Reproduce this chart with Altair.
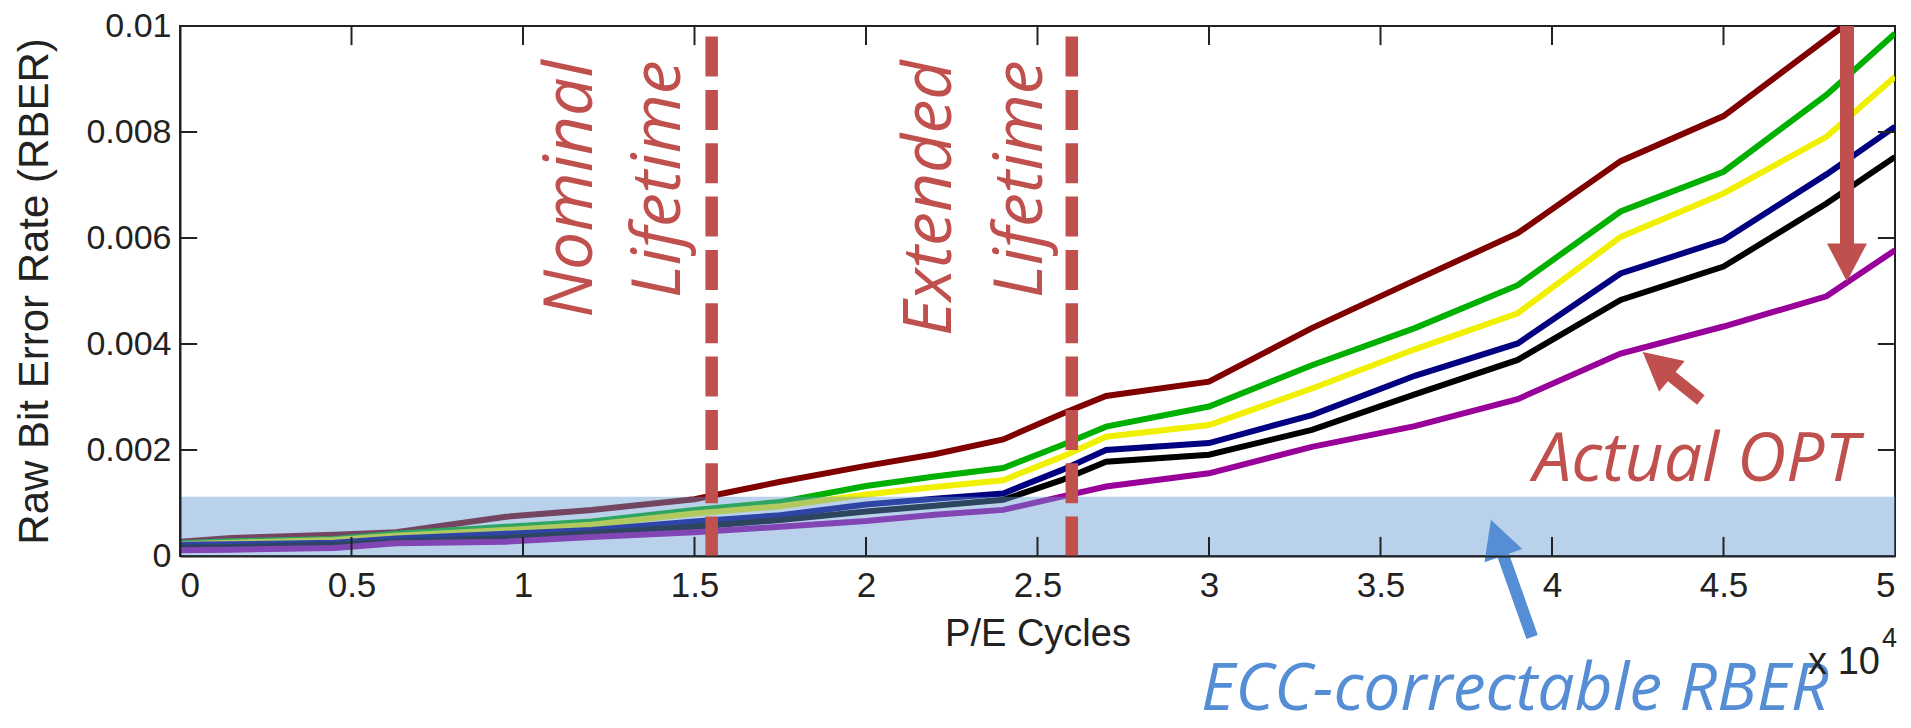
import altair as alt
import pandas as pd

# ---------------- data (P/E cycles in units of 10^4) ----------------
pe = [0, 0.15, 0.45, 0.63, 0.95, 1.2, 1.5, 1.75, 2.0, 2.2, 2.4, 2.57, 2.7, 3.0,
      3.3, 3.6, 3.9, 4.2, 4.5, 4.8, 5.0]
pe_top = [0, 0.15, 0.45, 0.63, 0.95, 1.2, 1.5, 1.75, 2.0, 2.2, 2.4, 2.57, 2.7, 3.0,
          3.3, 3.6, 3.9, 4.2, 4.5, 4.85]

rber_darkred = [0.00027, 0.00034, 0.00040, 0.00045, 0.00074, 0.00087, 0.00107, 0.00140,
                0.00170, 0.00192, 0.00220, 0.00268, 0.00302, 0.00329, 0.00430, 0.00520,
                0.00609, 0.00745, 0.00830, 0.01000]
rber_green = [0.00024, 0.00028, 0.00032, 0.00042, 0.00055, 0.00065, 0.00087, 0.00102,
              0.00132, 0.00150, 0.00166, 0.00209, 0.00244, 0.00282, 0.00360, 0.00430,
              0.00511, 0.00650, 0.00725, 0.00870, 0.00986]
rber_yellow = [0.00022, 0.00025, 0.00030, 0.00038, 0.00049, 0.00059, 0.00080, 0.00094,
               0.00116, 0.00130, 0.00143, 0.00187, 0.00225, 0.00247, 0.00316, 0.00390,
               0.00458, 0.00602, 0.00684, 0.00791, 0.00904]
rber_navy = [0.00021, 0.00022, 0.00025, 0.00033, 0.00042, 0.00049, 0.00065, 0.00077,
             0.00097, 0.00108, 0.00118, 0.00162, 0.00200, 0.00213, 0.00266, 0.00340,
             0.00401, 0.00533, 0.00596, 0.00720, 0.00810]
rber_black = [0.00016, 0.00017, 0.00021, 0.00027, 0.00034, 0.00043, 0.00055, 0.00068,
              0.00084, 0.00095, 0.00106, 0.00143, 0.00178, 0.00191, 0.00238, 0.00305,
              0.00370, 0.00483, 0.00546, 0.00665, 0.00753]
rber_purple = [0.00011, 0.00012, 0.00015, 0.00024, 0.00027, 0.00036, 0.00045, 0.00055,
               0.00066, 0.00078, 0.00087, 0.00112, 0.00131, 0.00156, 0.00206, 0.00245,
               0.00296, 0.00382, 0.00433, 0.00490, 0.00577]

series_names = ["Curve 1", "Curve 2", "Curve 3", "Curve 4", "Curve 5", "Actual OPT"]
series_colors = ["#800000", "#00B000", "#F0F000", "#000080", "#000000", "#990099"]

x_ticks = [0, 0.5, 1, 1.5, 2, 2.5, 3, 3.5, 4, 4.5, 5]
y_ticks = [0, 0.002, 0.004, 0.006, 0.008, 0.01]

ecc_limit = 0.00112
nominal_life = 1.55
extended_life = 2.6

RED = "#C0504D"
BLUE = "#558ED5"

# ---------------- tables ----------------
rows = []
for name, xs, ys in zip(series_names,
                        [pe_top, pe, pe, pe, pe, pe],
                        [rber_darkred, rber_green, rber_yellow, rber_navy, rber_black, rber_purple]):
    for i, (a, b) in enumerate(zip(xs, ys)):
        rows.append({"pe": a, "rber": b, "series": name, "i": i})
lines_df = pd.DataFrame(rows)

X = alt.X("pe:Q", title="P/E Cycles",
          scale=alt.Scale(domain=[0, 5], nice=False, zero=False),
          axis=alt.Axis(values=x_ticks, format=".1~f", tickSize=0, grid=False,
                        labelFont="Liberation Sans", labelFontSize=35, labelColor="#222",
                        labelPadding=12, domainColor="#222", domainWidth=2,
                        titleFont="Liberation Sans", titleFontSize=38, titleFontWeight="normal",
                        titleColor="#222", titleY=89, titleBaseline="alphabetic", zindex=1))
Y = alt.Y("rber:Q", title="Raw Bit Error Rate (RBER)",
          scale=alt.Scale(domain=[0, 0.01], nice=False),
          axis=alt.Axis(values=y_ticks, format=".3~f", tickSize=0, grid=False,
                        labelFont="Liberation Sans", labelFontSize=34, labelColor="#222",
                        labelPadding=9, domainColor="#222", domainWidth=2,
                        titleFont="Liberation Sans", titleFontSize=42, titleFontWeight="normal",
                        titleColor="#222", titleX=-133, titleAngle=270,
                        titleBaseline="alphabetic", zindex=1))

lines = alt.Chart(lines_df).mark_line(strokeWidth=6, clip=True).encode(
    x=X, y=Y,
    color=alt.Color("series:N", scale=alt.Scale(domain=series_names, range=series_colors), legend=None),
    order="i:Q",
)

band_df = pd.DataFrame({"pe": [0], "pe2": [5], "rber": [0], "rber2": [ecc_limit]})
band = alt.Chart(band_df).mark_rect(color="#6599D5", opacity=0.45).encode(
    x="pe:Q", x2="pe2", y="rber:Q", y2="rber2")

# inward ticks (box style)
tick_x_len = 0.00036
tick_y_len = 0.05
bt = pd.DataFrame({"pe": x_ticks[1:-1], "rber": [0] * 9, "rber2": [tick_x_len] * 9})
tt = pd.DataFrame({"pe": x_ticks[1:-1], "rber": [0.01] * 9, "rber2": [0.01 - tick_x_len] * 9})
lt = pd.DataFrame({"rber": y_ticks[1:-1], "pe": [0] * 4, "pe2": [tick_y_len] * 4})
rt = pd.DataFrame({"rber": y_ticks[1:-1], "pe": [5] * 4, "pe2": [5 - tick_y_len] * 4})
tick_style = dict(color="#222", strokeWidth=2)
ticks = alt.layer(
    alt.Chart(bt).mark_rule(**tick_style).encode(x="pe:Q", y="rber:Q", y2="rber2"),
    alt.Chart(tt).mark_rule(**tick_style).encode(x="pe:Q", y="rber:Q", y2="rber2"),
    alt.Chart(lt).mark_rule(**tick_style).encode(x="pe:Q", x2="pe2", y="rber:Q"),
    alt.Chart(rt).mark_rule(**tick_style).encode(x="pe:Q", x2="pe2", y="rber:Q"),
)

life_df = pd.DataFrame({"pe": [nominal_life, extended_life], "rber": [0.0098, 0.0098], "rber2": [0, 0]})
life = alt.Chart(life_df).mark_rule(color=RED, strokeWidth=12.5, strokeDash=[40, 13.33],
                                    strokeCap="butt").encode(x="pe:Q", y="rber:Q", y2="rber2")

label_df = pd.DataFrame({
    "text": ["Nominal", "Lifetime", "Extended", "Lifetime"],
    "pe": [1.201, 1.458, 2.249, 2.512],
    "rber": [0.00935, 0.00935, 0.00935, 0.00935],
})
life_labels = alt.Chart(label_df).mark_text(
    angle=270, align="right", baseline="alphabetic", font="Open Sans", fontStyle="italic",
    fontSize=68, color=RED).encode(x="pe:Q", y="rber:Q", text="text:N")

opt_df = pd.DataFrame({"text": ["Actual OPT"], "pe": [3.945], "rber": [0.00142]})
opt_label = alt.Chart(opt_df).mark_text(
    align="left", baseline="alphabetic", font="Open Sans", fontStyle="italic",
    fontSize=68, color=RED).encode(x="pe:Q", y="rber:Q", text="text:N")

ecc_df = pd.DataFrame({"text": ["ECC-correctable RBER"], "pe": [2.977], "rber": [-0.00291]})
ecc_label = alt.Chart(ecc_df).mark_text(
    align="left", baseline="alphabetic", font="Open Sans", fontStyle="italic",
    fontSize=66, color=BLUE).encode(x="pe:Q", y="rber:Q", text="text:N")

mult_df = pd.DataFrame({"text": ["x 10"], "pe": [4.956], "rber": [-0.00222]})
mult = alt.Chart(mult_df).mark_text(
    align="right", baseline="alphabetic", font="Liberation Sans", fontSize=38,
    color="#222").encode(x="pe:Q", y="rber:Q", text="text:N")
exp_df = pd.DataFrame({"text": ["4"], "pe": [4.962], "rber": [-0.00171]})
expo = alt.Chart(exp_df).mark_text(
    align="left", baseline="alphabetic", font="Liberation Sans", fontSize=27,
    color="#222").encode(x="pe:Q", y="rber:Q", text="text:N")

# arrows
shaft_df = pd.DataFrame({
    "pe": [4.86, 4.329, 3.848], "rber": [0.0100, 0.00349, 0.000189],
    "pe2": [4.86, 4.434, 3.942], "rber2": [0.00577, 0.002943, -0.001528],
    "col": [RED, RED, BLUE], "w": [14, 12, 12],
})
shafts = alt.Chart(shaft_df).mark_rule(strokeCap="butt").encode(
    x="pe:Q", y="rber:Q", x2="pe2", y2="rber2",
    color=alt.Color("col:N", scale=None), strokeWidth=alt.StrokeWidth("w:Q", scale=None))

head_df = pd.DataFrame({
    "pe": [4.86, 4.307, 3.840], "rber": [0.00554, 0.003619, 0.000345],
    "ang": [180, 309.8, 340.8], "col": [RED, RED, BLUE],
})
heads = alt.Chart(head_df).mark_point(
    shape="M0,-0.95L1,0.95L-1,0.95Z", size=1600, filled=True, opacity=1, strokeWidth=0).encode(
    x="pe:Q", y="rber:Q", angle=alt.Angle("ang:Q", scale=None),
    color=alt.Color("col:N", scale=None))

chart = alt.layer(
    lines, band, ticks, life, life_labels, opt_label, ecc_label, mult, expo, shafts, heads
).properties(
    width=1715, height=530,
    padding={"left": 172, "top": 18, "right": 8, "bottom": 164},
    autosize=alt.AutoSizeParams(type="none"),
    background="white",
).configure_view(stroke="#222", strokeWidth=2)

chart.save("out.html", embed_options={"renderer": "svg", "actions": False})
